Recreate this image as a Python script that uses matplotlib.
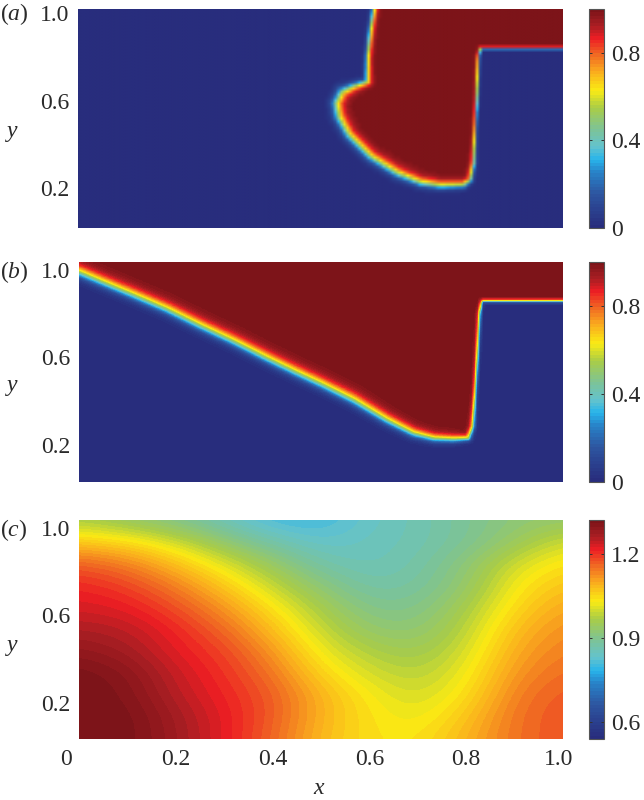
import matplotlib
matplotlib.use('Agg')
import matplotlib.pyplot as plt
import matplotlib.transforms as mtrans
from matplotlib.colors import LinearSegmentedColormap
from matplotlib.path import Path
import numpy as np

# front (level 0.5) of panel a
front_a_x = [0.610, 0.603, 0.597, 0.596, 0.568, 0.544, 0.532, 0.537, 0.558, 0.603, 0.658,
             0.706, 0.747, 0.795, 0.809, 0.816, 0.819, 0.823, 0.826, 0.830, 1.000]
front_a_y = [1.000, 0.904, 0.782, 0.668, 0.648, 0.622, 0.569, 0.508, 0.425, 0.326, 0.250,
             0.207, 0.193, 0.196, 0.219, 0.295, 0.432, 0.615, 0.782, 0.820, 0.820]
front_a_w = [3.0, 3.0, 3.0, 3.5, 4.5, 6.0, 6.0, 6.0, 5.5, 5.5, 5.5,
             5.0, 4.5, 4.0, 3.0, 2.5, 1.8, 1.8, 1.8, 1.5, 1.5]

# front of panel b
front_b_x = [0.000, 0.044, 0.113, 0.182, 0.251, 0.319, 0.388, 0.450, 0.499, 0.567, 0.636, 0.691,
             0.733, 0.774, 0.805, 0.814, 0.819, 0.824, 0.828, 0.833, 1.000]
front_b_y = [0.954, 0.913, 0.850, 0.785, 0.710, 0.640, 0.563, 0.497, 0.447, 0.373, 0.282, 0.221,
             0.198, 0.194, 0.198, 0.251, 0.404, 0.601, 0.769, 0.822, 0.822]
front_b_w = [6.0, 6.0, 6.0, 6.0, 6.0, 6.0, 6.0, 6.0, 6.0, 6.0, 5.5, 5.0,
             4.5, 4.0, 3.0, 2.5, 1.8, 1.8, 1.8, 1.5, 1.5]

# panel c, rows from y=1.0 down to y=0, columns x=0..1 in steps of 0.1
field_c = [
    [0.96, 0.93, 0.90, 0.85, 0.80, 0.80, 0.84, 0.86, 0.89, 0.92, 0.93],
    [1.07, 1.05, 1.00, 0.93, 0.87, 0.83, 0.85, 0.86, 0.89, 0.94, 1.00],
    [1.17, 1.14, 1.08, 1.01, 0.94, 0.87, 0.85, 0.87, 0.92, 1.00, 1.045],
    [1.21, 1.19, 1.14, 1.07, 0.99, 0.92, 0.87, 0.88, 0.93, 1.03, 1.075],
    [1.23, 1.22, 1.18, 1.12, 1.04, 0.96, 0.90, 0.90, 0.96, 1.05, 1.105],
    [1.26, 1.25, 1.21, 1.16, 1.08, 0.99, 0.93, 0.92, 0.98, 1.08, 1.125],
    [1.29, 1.27, 1.22, 1.19, 1.12, 1.02, 0.97, 0.95, 1.00, 1.10, 1.14],
    [1.32, 1.30, 1.24, 1.20, 1.15, 1.055, 1.00, 0.975, 1.02, 1.12, 1.155],
    [1.32, 1.31, 1.25, 1.21, 1.17, 1.09, 1.03, 0.995, 1.04, 1.14, 1.17],
    [1.32, 1.32, 1.27, 1.22, 1.17, 1.09, 1.04, 1.015, 1.07, 1.15, 1.175],
    [1.32, 1.32, 1.275, 1.22, 1.16, 1.08, 1.04, 1.035, 1.09, 1.15, 1.175],
]

x_ticks = [0, 0.2, 0.4, 0.6, 0.8, 1.0]
x_tick_labels = ['0', '0.2', '0.4', '0.6', '0.8', '1.0']
y_ticks = [0.2, 0.6, 1.0]
y_tick_labels = ['0.2', '0.6', '1.0']
cbar_ticks_ab = [0, 0.4, 0.8]
cbar_labels_ab = ['0', '0.4', '0.8']
cbar_ticks_c = [0.6, 0.9, 1.2]
cbar_labels_c = ['0.6', '0.9', '1.2']

plt.rcParams['font.family'] = ['Liberation Serif', 'DejaVu Serif']
plt.rcParams['font.size'] = 17
plt.rcParams['mathtext.fontset'] = 'custom'
plt.rcParams['mathtext.rm'] = 'Liberation Serif'
plt.rcParams['mathtext.it'] = 'Liberation Serif:italic'

W, H = 644, 800
TEXT = '#2a2a2a'

stops = [(0.00, (40, 45, 125)), (0.15, (45, 85, 160)), (0.25, (40, 130, 200)),
         (0.31, (40, 180, 235)), (0.37, (100, 195, 205)), (0.45, (125, 195, 150)),
         (0.55, (170, 205, 70)), (0.63, (250, 235, 20)), (0.72, (250, 170, 30)),
         (0.80, (240, 100, 35)), (0.87, (237, 30, 36)), (0.93, (170, 30, 35)),
         (1.00, (125, 20, 25))]
cmap = LinearSegmentedColormap.from_list('jet2', [(p, np.array(c) / 255) for p, c in stops], N=64)


def px_axes(fig, left, top, right, bottom):
    return fig.add_axes([left / W, 1 - bottom / H, (right - left) / W, (bottom - top) / H])


def shift(label, dx, dy):
    # move a tick label by some pixels
    label.set_transform(label.get_transform() + mtrans.Affine2D().translate(dx, dy))


def front_field(fx, fy, fw, sx=484.0, sy=219.0, nx=161, ny=73):
    # rasterise the region above the front, soft edge across the front line
    fx, fy, fw = np.array(fx), np.array(fy), np.array(fw)
    gx = (np.arange(nx) + 0.5) / nx
    gy = (np.arange(ny) + 0.5) / ny
    X, Y = np.meshgrid(gx, gy)
    pts = np.column_stack([X.ravel(), Y.ravel()])

    poly = list(zip(fx, fy)) + [(1.2, fy[-1]), (1.2, 1.2), (-0.2, 1.2)]
    if fx[0] > 0:
        poly += [(fx[0], 1.2)]
    else:
        poly += [(-0.2, fy[0])]
    inside = Path(poly).contains_points(pts)

    best = np.full(len(pts), 1e9)
    width = np.ones(len(pts))
    for i in range(len(fx) - 1):
        ax_, ay_ = fx[i] * sx, fy[i] * sy
        bx_, by_ = fx[i + 1] * sx, fy[i + 1] * sy
        dx, dy = bx_ - ax_, by_ - ay_
        t = ((pts[:, 0] * sx - ax_) * dx + (pts[:, 1] * sy - ay_) * dy) / (dx * dx + dy * dy)
        t = np.clip(t, 0, 1)
        d = np.hypot(pts[:, 0] * sx - ax_ - t * dx, pts[:, 1] * sy - ay_ - t * dy)
        near = d < best
        best[near] = d[near]
        width[near] = (fw[i] + t * (fw[i + 1] - fw[i]))[near]

    # the red side of the front fades slower than the blue side
    signed = np.where(inside, best / 1.3, -best)
    return (0.5 + 0.5 * np.tanh(signed / width)).reshape(ny, nx)


def style_panel(ax, yshift, show_x=False):
    for s in ax.spines.values():
        s.set_visible(False)
    ax.set_xlim(0, 1)
    ax.set_ylim(0, 1)
    ax.set_yticks(y_ticks)
    ax.set_yticklabels(y_tick_labels, color=TEXT)
    ax.tick_params(axis='both', length=0)
    ax.tick_params(axis='y', pad=6.5)
    for lab in ax.get_yticklabels():
        shift(lab, 0, -yshift)
    if show_x:
        ax.set_xticks(x_ticks)
        ax.set_xticklabels(x_tick_labels, color=TEXT)
        ax.tick_params(axis='x', pad=7)
        labs = ax.get_xticklabels()
        shift(labs[0], -13, 0)
        shift(labs[-1], -4, 0)
    else:
        ax.set_xticks([])


def add_cbar(fig, im, top, bottom, ticks, labels):
    cax = px_axes(fig, 588.5, top, 604, bottom)
    cb = fig.colorbar(im, cax=cax)
    cb.set_ticks(ticks)
    cb.set_ticklabels(labels)
    cb.outline.set_edgecolor('#555555')
    cb.outline.set_linewidth(0.8)
    cax.tick_params(axis='y', direction='in', length=2.5, width=0.7, color='#333333',
                    left=True, right=True, pad=5, labelcolor=TEXT)
    return cb


def main():
    fig = plt.figure(figsize=(W / 100, H / 100), dpi=100)

    ax_a = px_axes(fig, 78, 9, 562.5, 228)
    im_a = ax_a.imshow(front_field(front_a_x, front_a_y, front_a_w), origin='lower', extent=(0, 1, 0, 1),
                       aspect='auto', cmap=cmap, vmin=0, vmax=1, interpolation='bilinear')
    style_panel(ax_a, 4)
    add_cbar(fig, im_a, 9, 228, cbar_ticks_ab, cbar_labels_ab)

    ax_b = px_axes(fig, 79, 262, 563, 481.5)
    im_b = ax_b.imshow(front_field(front_b_x, front_b_y, front_b_w), origin='lower', extent=(0, 1, 0, 1),
                       aspect='auto', cmap=cmap, vmin=0, vmax=1, interpolation='bilinear')
    style_panel(ax_b, 7.5)
    add_cbar(fig, im_b, 262, 481.5, cbar_ticks_ab, cbar_labels_ab)

    ax_c = px_axes(fig, 79, 520, 563, 739)
    im_c = ax_c.imshow(field_c, origin='upper', extent=(-0.05, 1.05, -0.05, 1.05),
                       aspect='auto', cmap=cmap, vmin=0.54, vmax=1.32, interpolation='bicubic')
    style_panel(ax_c, 7.5, show_x=True)
    add_cbar(fig, im_c, 520, 739, cbar_ticks_c, cbar_labels_c)

    # panel letters and axis names
    for name, ypx in [('a', 14), ('b', 272), ('c', 530)]:
        fig.text(0, 1 - ypx / H, r'$\mathrm{(}\mathit{%s}\mathrm{)}$' % name, ha='left', va='center', color=TEXT)
    for ypx in [133, 388, 647]:
        fig.text(12 / W, 1 - ypx / H, r'$\mathit{y}$', ha='center', va='center', color=TEXT)
    fig.text(319 / W, 1 - 788 / H, r'$\mathit{x}$', ha='center', va='center', color=TEXT)

    fig.savefig('out.png', dpi=100)
    return 0


if __name__ == "__main__":
    main()
